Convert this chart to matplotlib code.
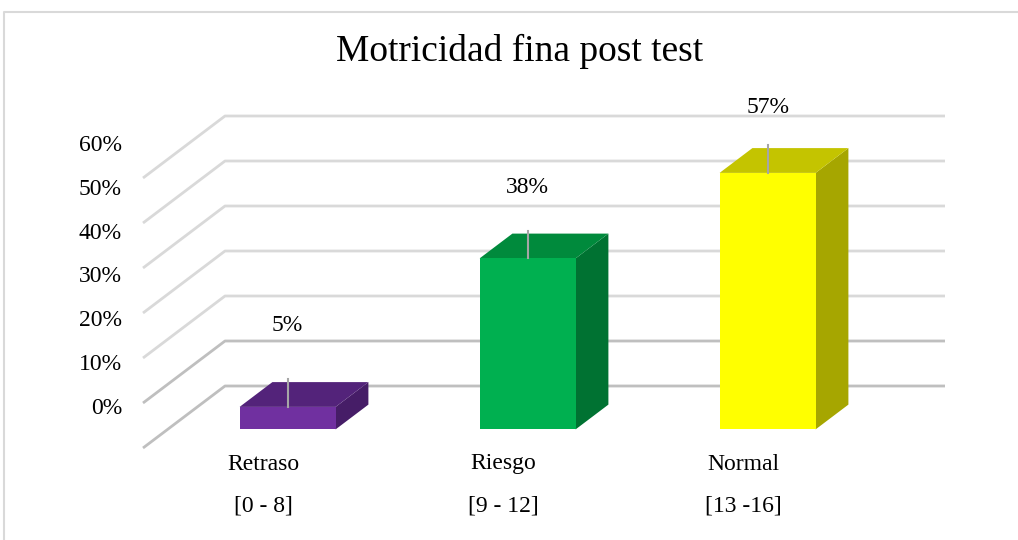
import matplotlib
matplotlib.use('Agg')
import matplotlib.pyplot as plt
from matplotlib.patches import Polygon

plt.rcParams['font.family'] = ['Liberation Serif', 'DejaVu Serif']

title = 'Motricidad fina post test'
categories = ['Retraso', 'Riesgo', 'Normal']
ranges = ['[0 - 8]', '[9 - 12]', '[13 -16]']
values = [5, 38, 57]
ticks = [0, 10, 20, 30, 40, 50, 60]

front_colors = ['#7030a0', '#00b050', '#ffff00']
top_colors = ['#53237a', '#008a3c', '#c4c400']
side_colors = ['#461d67', '#007232', '#a6a600']

# fake 3d projection, in pixel space
X0, Y0 = 143, 448       # front-left corner of the floor
CAT_W = 240             # pixels per category
DX, DY = 82, 62         # depth offset of the back wall
PX_PER = 4.5            # pixels per percent


def proj(c, d, v):
    return (X0 + c * CAT_W + d * DX, Y0 - d * DY - v * PX_PER)


fig = plt.figure(figsize=(10.18, 5.4), dpi=100)
ax = fig.add_axes([0, 0, 1, 1])
ax.set_xlim(0, 1018)
ax.set_ylim(540, 0)
ax.axis('off')

# outer frame
ax.plot([4.5, 4.5, 1018], [540, 11.5, 11.5], color='#d9d9d9', lw=1.5)

# wall gridlines
n = len(categories)
for v in ticks:
    col = '#bfbfbf' if v <= 10 else '#d9d9d9'
    xa, ya = proj(0, 0, v)
    xb, yb = proj(0, 1, v)
    xc, yc = proj(n, 1, v)
    ax.plot([xa, xb, xc], [ya, yb, yc], color=col, lw=2, solid_capstyle='butt', zorder=1)
    ax.text(122, 408 - v * 4.37, f'{v}%', ha='right', va='center', fontsize=17)

# bars
d0, d1 = 0.3, 0.7
for i, v in enumerate(values):
    l, r = i + 0.3, i + 0.7
    front = [proj(l, d0, 0), proj(r, d0, 0), proj(r, d0, v), proj(l, d0, v)]
    top = [proj(l, d0, v), proj(r, d0, v), proj(r, d1, v), proj(l, d1, v)]
    side = [proj(r, d0, 0), proj(r, d1, 0), proj(r, d1, v), proj(r, d0, v)]
    ax.add_patch(Polygon(side, closed=True, fc=side_colors[i], ec='none', zorder=3))
    ax.add_patch(Polygon(top, closed=True, fc=top_colors[i], ec='none', zorder=3))
    ax.add_patch(Polygon(front, closed=True, fc=front_colors[i], ec='none', zorder=4))

    cx, fy = proj(i + 0.5, d0, v)
    _, by = proj(i + 0.5, d1, v)
    ax.plot([cx, cx], [fy, by - 3], color='#a6a6a6', lw=1.5, zorder=5)
    ax.text(cx, fy - (82.5 - 0.3 * v), f'{v}%', ha='center', va='center', fontsize=17)

    lx, _ = proj(i + 0.5, 0, 0)
    ax.text(lx, 464, categories[i], ha='center', va='center', fontsize=17)
    ax.text(lx, 506, ranges[i], ha='center', va='center', fontsize=17)

ax.text(520, 51, title, ha='center', va='center', fontsize=27)

fig.savefig('out.png', dpi=100)
